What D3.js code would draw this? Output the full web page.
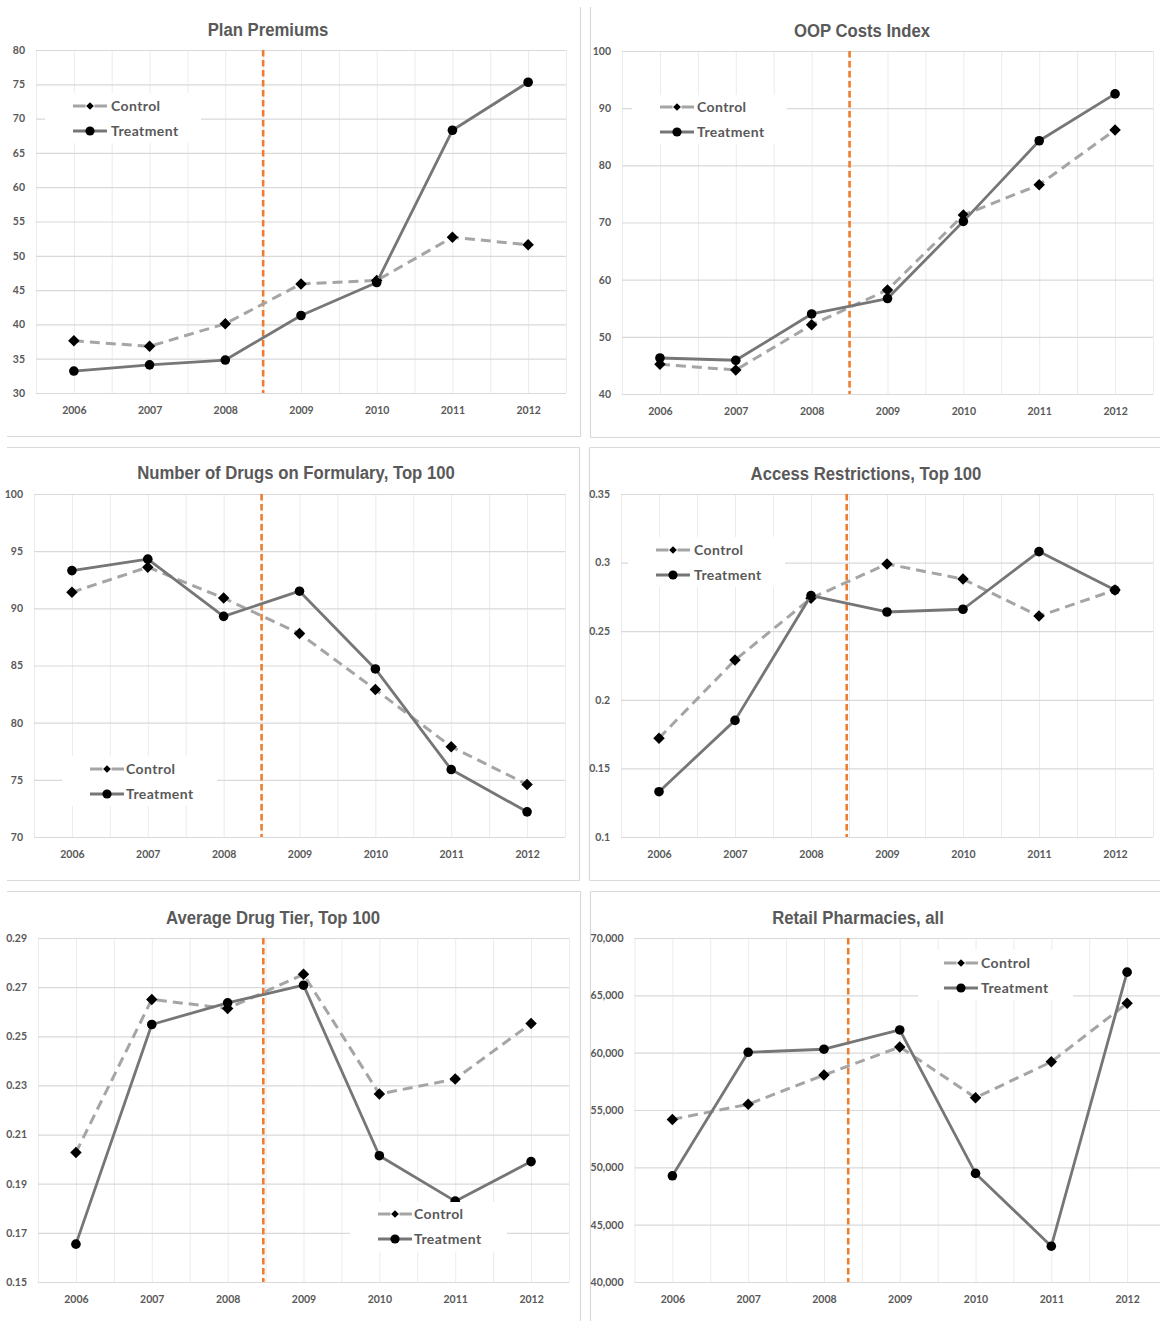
<!DOCTYPE html>
<html>
<head>
<meta charset="utf-8">
<script src="https://cdn.jsdelivr.net/npm/d3@7"></script>
<style>
  html, body { margin: 0; padding: 0; background: #ffffff; }
  svg { display: block; }
</style>
</head>
<body>
<svg id="chart" width="1160" height="1321"></svg>
<script>
// ---- data ----
const years = [2006, 2007, 2008, 2009, 2010, 2011, 2012];
const seriesNames = ["Control", "Treatment"];

const premiumsControl   = [37.6, 36.8, 40.1, 45.9, 46.4, 52.7, 51.6];
const premiumsTreatment = [33.2, 34.1, 34.8, 41.3, 46.1, 68.3, 75.3];
const premiumsTicks     = [30, 35, 40, 45, 50, 55, 60, 65, 70, 75, 80];

const oopControl   = [45.2, 44.2, 52.1, 58.2, 71.3, 76.6, 86.2];
const oopTreatment = [46.3, 45.9, 54.0, 56.7, 70.2, 84.3, 92.5];
const oopTicks     = [40, 50, 60, 70, 80, 90, 100];

const drugsControl   = [91.4, 93.6, 90.9, 87.8, 82.9, 77.9, 74.6];
const drugsTreatment = [93.3, 94.3, 89.3, 91.5, 84.7, 75.9, 72.2];
const drugsTicks     = [70, 75, 80, 85, 90, 95, 100];

const accessControl   = [0.172, 0.229, 0.274, 0.299, 0.288, 0.261, 0.280];
const accessTreatment = [0.133, 0.185, 0.276, 0.264, 0.266, 0.308, 0.280];
const accessTicks     = [0.1, 0.15, 0.2, 0.25, 0.3, 0.35];

const tierControl   = [0.2027, 0.2650, 0.2613, 0.2752, 0.2265, 0.2326, 0.2552];
const tierTreatment = [0.1654, 0.2548, 0.2636, 0.2708, 0.2014, 0.1829, 0.1990];
const tierTicks     = [0.15, 0.17, 0.19, 0.21, 0.23, 0.25, 0.27, 0.29];

const pharmControl   = [54180, 55500, 58050, 60500, 56070, 59200, 64300];
const pharmTreatment = [49260, 60030, 60300, 61980, 49470, 43120, 67020];
const pharmTicks     = [40000, 45000, 50000, 55000, 60000, 65000, 70000];

// year at which the policy change marker is drawn, per panel
const policyYears = [2008.5, 2008.5, 2008.5, 2008.47, 2008.47, 2008.32];

// ---- layout ----
const panels = [
  { title: "Plan Premiums", control: premiumsControl, treatment: premiumsTreatment, ticks: premiumsTicks,
    fmt: String, left: 36, right: 566, top: 50, bottom: 393, titleX: 268, titleY: 29,
    legend: { x: 45, y: 93, w: 156, h: 50, lineX: 73, textX: 111, rowY: [106, 131] } },
  { title: "OOP Costs Index", control: oopControl, treatment: oopTreatment, ticks: oopTicks,
    fmt: String, left: 622, right: 1153, top: 51, bottom: 394, titleX: 862, titleY: 30,
    legend: { x: 632, y: 95, w: 155, h: 49, lineX: 660, textX: 697, rowY: [107, 132] } },
  { title: "Number of Drugs on Formulary, Top 100", control: drugsControl, treatment: drugsTreatment, ticks: drugsTicks,
    fmt: String, left: 34, right: 565, top: 494, bottom: 837, titleX: 296, titleY: 472,
    legend: { x: 62, y: 756, w: 155, h: 50, lineX: 90, textX: 126, rowY: [769, 794] } },
  { title: "Access Restrictions, Top 100", control: accessControl, treatment: accessTreatment, ticks: accessTicks,
    fmt: String, left: 621, right: 1153, top: 494, bottom: 837, titleX: 866, titleY: 473,
    legend: { x: 628, y: 537, w: 157, h: 50, lineX: 656, textX: 694, rowY: [550, 575] } },
  { title: "Average Drug Tier, Top 100", control: tierControl, treatment: tierTreatment, ticks: tierTicks,
    fmt: String, left: 38, right: 569, top: 938, bottom: 1282, titleX: 273, titleY: 917,
    legend: { x: 350, y: 1202, w: 157, h: 50, lineX: 378, textX: 414, rowY: [1214, 1239] } },
  { title: "Retail Pharmacies, all", control: pharmControl, treatment: pharmTreatment, ticks: pharmTicks,
    fmt: d3.format(","), left: 634.5, right: 1165, top: 938, bottom: 1282, titleX: 858, titleY: 917,
    legend: { x: 918, y: 950, w: 155, h: 50, lineX: 944, textX: 981, rowY: [963, 988] } }
];

const svg = d3.select("#chart");
const BORDER = "#d9d9d9";
const TEXT = "#595959";
const CONTROL_COLOR = "#a5a5a5";
const TREAT_COLOR = "#767676";
const ORANGE = "#ed7d31";

// chart-area frames (each frame runs partly off the page edge)
const frameLines = [
  [580.5, 7, 580.5, 436.5], [7, 436.5, 580.5, 436.5],
  [590.5, 7, 590.5, 437.5], [590.5, 437.5, 1160, 437.5],
  [7, 447.5, 579.5, 447.5], [579.5, 447.5, 579.5, 880.5], [7, 880.5, 579.5, 880.5],
  [589.5, 447.5, 1160, 447.5], [589.5, 447.5, 589.5, 880.5], [589.5, 880.5, 1160, 880.5],
  [7, 891.5, 580.5, 891.5], [580.5, 891.5, 580.5, 1321],
  [590.5, 891.5, 1160, 891.5], [590.5, 891.5, 590.5, 1321]
];
svg.append("g").selectAll("line").data(frameLines).join("line")
  .attr("x1", d => d[0]).attr("y1", d => d[1]).attr("x2", d => d[2]).attr("y2", d => d[3])
  .attr("stroke", BORDER).attr("stroke-width", 1.2);

const diamond = d3.symbol().type(d3.symbolSquare);

panels.forEach((p, i) => {
  const g = svg.append("g");
  const x = d3.scaleLinear().domain([2005.5, 2012.5]).range([p.left, p.right]);
  const y = d3.scaleLinear().domain([p.ticks[0], p.ticks[p.ticks.length - 1]]).range([p.bottom, p.top]);
  const plotH = p.bottom - p.top;
  const plotW = p.right - p.left;

  // vertical gridlines on every half year
  const halfYears = d3.range(0, 15).map(k => 2005.5 + k * 0.5);
  g.append("g")
    .attr("transform", `translate(0,${p.bottom})`)
    .call(d3.axisBottom(x).tickValues(halfYears).tickSize(-plotH).tickFormat(""))
    .call(a => a.select(".domain").remove())
    .call(a => a.selectAll("line").attr("stroke", "#ebebeb").attr("stroke-width", 1));

  // horizontal gridlines with value labels
  g.append("g")
    .attr("transform", `translate(${p.left},0)`)
    .call(d3.axisLeft(y).tickValues(p.ticks).tickSize(-plotW).tickPadding(11).tickFormat(p.fmt))
    .call(a => a.select(".domain").remove())
    .call(a => a.selectAll("line").attr("stroke", BORDER).attr("stroke-width", 1.2))
    .call(a => a.selectAll("text")
      .attr("fill", TEXT).attr("font-family", "Lato, 'Open Sans', sans-serif")
      .attr("font-weight", 700).attr("font-size", 10.5));

  // year labels
  g.append("g")
    .attr("transform", `translate(0,${p.bottom})`)
    .call(d3.axisBottom(x).tickValues(years).tickSize(0).tickPadding(14).tickFormat(d3.format("d")))
    .call(a => a.select(".domain").remove())
    .call(a => a.selectAll("text")
      .attr("fill", TEXT).attr("font-family", "Lato, 'Open Sans', sans-serif")
      .attr("font-weight", 700).attr("font-size", 10.5));

  // policy change marker
  g.append("line")
    .attr("x1", x(policyYears[i])).attr("x2", x(policyYears[i]))
    .attr("y1", p.top).attr("y2", p.bottom)
    .attr("stroke", ORANGE).attr("stroke-width", 2.6).attr("stroke-dasharray", "6.5,3.5");

  const line = d3.line().x((d, k) => x(years[k])).y(d => y(d));

  // control series
  g.append("path").datum(p.control).attr("d", line)
    .attr("fill", "none").attr("stroke", CONTROL_COLOR).attr("stroke-width", 3)
    .attr("stroke-dasharray", "10,6");
  g.append("g").selectAll("path").data(p.control).join("path")
    .attr("d", diamond.size(66)())
    .attr("transform", (d, k) => `translate(${x(years[k])},${y(d)}) rotate(45)`)
    .attr("fill", "#000");

  // treatment series
  g.append("path").datum(p.treatment).attr("d", line)
    .attr("fill", "none").attr("stroke", TREAT_COLOR).attr("stroke-width", 2.8)
    .attr("stroke-linejoin", "round");
  g.append("g").selectAll("circle").data(p.treatment).join("circle")
    .attr("cx", (d, k) => x(years[k])).attr("cy", d => y(d)).attr("r", 4.8)
    .attr("fill", "#000");

  // legend
  const L = p.legend;
  const lg = g.append("g");
  lg.append("rect").attr("x", L.x).attr("y", L.y).attr("width", L.w).attr("height", L.h).attr("fill", "#fff");
  seriesNames.forEach((name, k) => {
    const ry = L.rowY[k];
    const seg = lg.append("line")
      .attr("x1", L.lineX).attr("x2", L.lineX + 34).attr("y1", ry).attr("y2", ry)
      .attr("stroke", k === 0 ? CONTROL_COLOR : TREAT_COLOR).attr("stroke-width", 3);
    if (k === 0) {
      seg.attr("stroke-dasharray", "12.5,9,12.5");
      lg.append("path").attr("d", diamond.size(30)())
        .attr("transform", `translate(${L.lineX + 17},${ry}) rotate(45)`).attr("fill", "#000");
    } else {
      lg.append("circle").attr("cx", L.lineX + 17).attr("cy", ry).attr("r", 4.6).attr("fill", "#000");
    }
    lg.append("text").attr("x", L.textX).attr("y", ry).attr("dy", "0.35em")
      .attr("fill", TEXT).attr("font-family", "Lato, 'Open Sans', sans-serif")
      .attr("font-weight", 700).attr("font-size", 14).attr("letter-spacing", 0.4).text(name);
  });

  // title, set in a condensed bold face
  g.append("text")
    .attr("transform", `translate(${p.titleX},${p.titleY}) scale(0.88,1)`)
    .attr("dy", "0.35em")
    .attr("text-anchor", "middle").attr("fill", TEXT)
    .attr("font-family", "'Liberation Sans', Arial, sans-serif")
    .attr("font-weight", 700).attr("font-size", 19)
    .text(p.title);
});
</script>
</body>
</html>
